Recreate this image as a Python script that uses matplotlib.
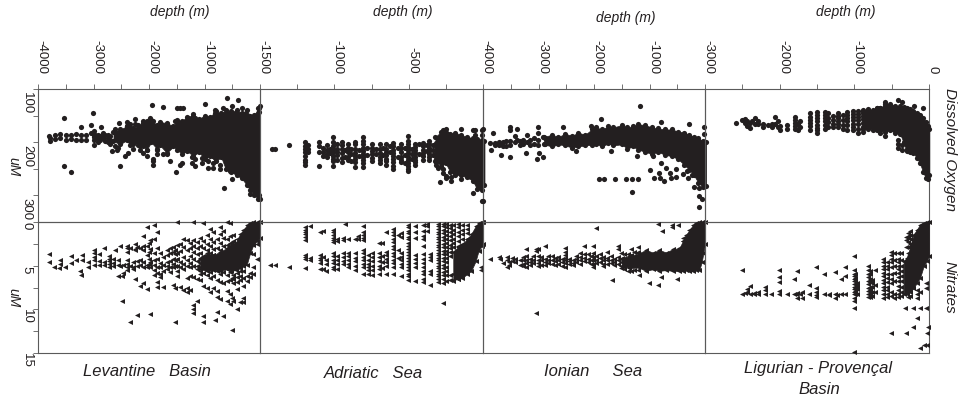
import matplotlib
matplotlib.use('Agg')
import matplotlib.pyplot as plt

plt.rcParams['font.family'] = ['Liberation Sans', 'DejaVu Sans']

INK = '#231f20'
LINE = '#5a5a5a'

# every series: depth columns + values read at that depth, core = solid black envelope

# Levantine Basin
lev_o2_depth = [-3798, -3780, -3702, -3690, -3612, -3600, -3540, -3498, -3408, -3312, -3228, -3222, -3132, -3048, -3018,
                -3000, -2970, -2910, -2880, -2862, -2820, -2790, -2730, -2700, -2670, -2610, -2580, -2550, -2538, -2520,
                -2430, -2400, -2370, -2280, -2250, -2160, -2100, -2040, -1980, -1950, -1920, -1860, -1752, -1740, -1680,
                -1620, -1530, -1506, -1500, -1440, -1410, -1392, -1300, -1230, -1200, -1170, -1050, -996, -930, -840,
                -810, -720, -660, -654, -600, -540, -510, -498, -390, -330, -180, -12]
lev_o2_um = [[189], [192, 198], [186], [194], [184], [192], [154, 245], [186, 196], [186, 194, 256], [184, 195], [172],
             [186, 196], [187, 195], [167, 182], [145], [179, 186, 190, 196, 205], [186, 192], [186, 193, 200], [188, 195], [172], [182, 192],
             [186, 198], [186, 193, 200], [188, 195, 204], [217], [175, 207], [214], [211], [164], [244], [226], [162, 170], [220],
             [204, 212], [156, 165], [207, 214], [160, 220], [165, 226, 214], [154], [131], [160, 232, 242, 236], [223, 214], [134],
             [223], [223, 165], [236], [160], [256], [136], [136, 243], [239], [136], [155], [239, 228], [147], [245, 155, 232],
             [239, 230], [129], [248, 236], [248, 226, 240], [139, 145], [251, 242], [136, 150], [286], [117, 240], [254], [132], [270],
             [120], [136], [298], [136, 143, 300, 305]]
lev_o2_core_depth = [-2640, -2520, -2400, -2340, -2280, -2200, -2100, -2040, -1960, -1860, -1800, -1680, -1560, -1500,
                     -1400, -1320, -1200, -1100, -1000, -900, -800, -700, -620, -520, -420, -330, -240, -180, -100, -30, 0]
lev_o2_core_lo = [180, 176, 170, 166, 174, 168, 164, 160, 158, 168, 162, 164, 170, 158, 160, 152, 150, 156, 150, 152, 142,
                  146, 140, 142, 140, 145, 140, 150, 148, 136, 132]
lev_o2_core_hi = [198, 204, 196, 206, 200, 205, 208, 214, 200, 212, 206, 220, 208, 214, 222, 216, 226, 218, 232, 226, 236,
                  228, 250, 256, 262, 268, 280, 290, 300, 306, 306]

lev_no3_depth = [-3810, -3720, -3630, -3612, -3510, -3408, -3312, -3240, -3222, -3210, -3108, -3000, -2898, -2808, -2712,
                 -2640, -2610, -2560, -2520, -2490, -2460, -2400, -2340, -2290, -2260, -2220, -2160, -2100, -2040, -2000,
                 -1980, -1908, -1860, -1800, -1740, -1680, -1620, -1560, -1530, -1500, -1440, -1380, -1320, -1260, -1200,
                 -1140, -1080, -1020, -960, -900, -840, -810, -780, -720, -660, -600, -540, -510, -480, -420, -360, -300,
                 -240, -180, -120, -60]
lev_no3_um = [[3.7, 4.6], [5.1], [5.3], [4.4, 4.8], [5.1], [3.9, 4.7], [4.3], [5.6], [6.1], [3.8, 4.4], [4.6, 5.1],
              [3.2, 3.6, 4.0, 4.4, 4.9], [3.7, 4.5, 4.9], [3.0, 4.6, 4.9], [3.9, 4.2, 4.5, 4.8, 5.1], [4.2, 4.7, 5.0],
              [3.2], [4.3, 4.9, 6.2], [2.8, 5.0], [6.2, 9.0], [4.9, 5.8], [2.7, 3.0, 3.4, 4.3, 4.8, 5.1, 5.5],
              [3.0, 5.0, 11.4], [4.6, 5.1, 5.4], [2.5, 3.1, 3.2, 6.5], [2.9, 4.5, 5.0, 10.7], [3.0, 4.4, 4.9, 7.3],
              [1.6, 2.7, 3.2, 4.6, 5.1, 7.0], [0.6, 2.8, 3.8, 4.9, 5.2, 7.7], [2.4, 3.4, 4.2, 4.8],
              [2.1, 3.1, 4.6, 5.2, 10.5], [0.4, 2.0, 3.6, 4.4, 4.9, 5.5, 6.1], [1.1, 3.0, 4.2, 5.1, 5.8, 6.9, 7.4],
              [3.5, 4.7, 5.2, 5.9, 6.3], [4.0, 4.9, 5.6, 7.4], [3.2, 3.8, 4.6, 5.0, 5.4], [3.0, 3.6, 4.5, 5.1, 5.7],
              [2.9, 3.4, 4.2, 4.8, 5.2, 7.2], [3.2, 3.7, 4.4, 5.0, 7.6, 11.4], [0.0, 2.6, 3.5, 4.2, 5.0, 5.6, 6.2],
              [2.5, 3.3, 4.6, 5.1, 7.4], [2.0, 2.9, 4.0, 4.8, 5.4, 7.8], [2.1, 3.2, 4.4, 5.0, 6.4, 7.6, 8.0],
              [2.4, 3.0, 3.9, 4.7, 5.2, 6.2, 7.8], [0.0, 2.1, 2.8, 3.4, 4.2, 5.0, 6.3, 9.5, 10.0, 10.4],
              [2.3, 3.0, 3.7, 4.5, 5.0, 5.4, 6.5, 9.0], [1.8, 2.7, 3.5, 4.1, 4.7, 5.2, 5.6, 6.0, 6.6],
              [0.1, 2.2, 3.0, 3.9, 4.4, 4.9, 5.3, 5.8, 7.3, 10.8, 11.4], [1.5, 2.5, 3.2, 4.2, 4.6, 5.0, 5.5, 6.1, 7.5],
              [0.8, 1.9, 2.7, 3.6, 4.4, 4.8, 5.2, 5.7, 6.4, 8.0], [1.2, 2.3, 3.1, 3.8, 4.3, 4.7, 5.0, 5.4, 6.2, 7.5],
              [11.2], [2.0, 3.0, 4.1, 4.6, 5.1, 5.6, 6.6, 7.9, 8.6, 10.3],
              [0.6, 1.4, 2.4, 3.2, 3.8, 4.3, 4.8, 5.3, 6.0, 6.9, 8.8], [1.0, 1.8, 2.8, 3.5, 4.2, 4.7, 5.2, 5.7, 7.0, 10.8],
              [0.0, 2.0, 2.6, 3.2, 3.7, 4.3, 4.9, 5.4, 6.1, 6.7, 7.9, 9.0], [0.1, 1.6, 2.4, 3.0, 3.6, 4.2, 5.0, 5.7, 6.6, 8.3, 9.4],
              [12.4, 6.4, 8.7], [1.5, 2.2, 6.1, 6.5, 7.0, 9.1], [2.0, 5.8, 6.3, 6.9, 7.7, 10.0], [5.6, 6.2, 6.6, 9.2],
              [5.6, 6.4, 7.3, 8.7, 9.2], [6.2, 6.8], [5.8, 6.3], [3.7, 5.2, 5.9], [2.5, 4.2]]
lev_no3_core_depth = [-1080, -960, -840, -720, -600, -520, -440, -360, -300, -240, -180, -120, -60, 0]
lev_no3_core_lo = [4.2, 3.6, 3.8, 3.4, 3.0, 2.4, 2.4, 1.4, 0.9, 0.4, 0.1, 0.0, 0.0, 0.0]
lev_no3_core_hi = [5.4, 5.6, 5.5, 5.6, 5.4, 5.6, 5.5, 5.3, 5.0, 4.9, 3.6, 2.6, 2.2, 1.8]

# Adriatic Sea
adr_o2_depth = [-1422, -1400, -1304, -1200, -1175, -1100, -1075, -1050, -1030, -1010, -985, -950, -925, -905, -885, -860,
                -835, -805, -780, -750, -720, -695, -670, -650, -625, -605, -575, -550, -525, -505, -480, -460, -430,
                -405, -380, -360, -335, -315, -300, -290, -270, -250, -215, -150, -70, -55, -5]
adr_o2_um = [[212], [212], [206], [200, 207, 213, 219, 226, 233, 238, 243], [205, 212, 218], [200, 208, 219, 244], [210, 218, 226],
             [205, 214, 222, 228], [213, 221], [190, 200, 207, 213, 218, 226, 231, 236, 245], [203, 212, 218, 224, 233],
             [200, 206, 213, 221, 230, 238], [215, 227], [203, 211, 219, 228, 234], [212, 222, 235],
             [200, 204, 212, 220, 226, 232, 238, 246], [214, 226], [190, 198, 204, 210, 216, 222, 228, 234, 240, 246],
             [211, 224], [203, 211, 217, 223, 229, 236], [212, 222], [204, 212, 220, 228, 234, 240], [210, 225],
             [204, 212, 218, 224, 231, 236, 242], [208, 218], [202, 208, 214, 220, 226, 232, 238, 244, 250], [210, 228],
             [203, 211, 219, 228, 233, 237], [210, 225, 240], [188, 197, 203, 209, 215, 221, 227, 233, 239, 245, 250, 254],
             [212, 222, 232], [203, 209, 215, 221, 227, 233, 238, 243], [204, 222], [202, 208, 214, 220, 226, 234],
             [206, 216], [198, 204, 210, 216, 222, 228, 233], [205, 214, 224], [202, 208, 214, 220, 226, 232, 238, 243],
             [196, 208, 218, 232, 248], [275], [178, 185, 192, 250, 258], [183, 190, 263, 268], [265, 272],
             [176, 270], [178, 296], [178, 186], [178, 186, 310]]
adr_o2_core_depth = [-320, -280, -250, -220, -190, -150, -110, -70, -40, -10, 10]
adr_o2_core_lo = [190, 180, 176, 184, 182, 186, 190, 192, 194, 196, 198]
adr_o2_core_hi = [236, 244, 240, 256, 262, 262, 266, 272, 288, 290, 280]

adr_no3_depth = [-1434, -1400, -1304, -1198, -1165, -1098, -1075, -1053, -1008, -985, -945, -931, -905, -860, -838, -806,
                 -773, -750, -700, -678, -650, -605, -575, -553, -504, -459, -403, -375, -354, -305, -269, -250, -225,
                 -200, -170, -140, -110, -11]
adr_no3_um = [[4.9], [4.9], [5.1], [0.6, 0.9, 1.1, 1.4, 1.7, 2.1, 3.8, 4.0, 4.2, 5.3], [0.5, 4.1, 4.3],
              [1.1, 3.8, 4.1, 4.4, 4.7, 5.4], [1.0, 4.0, 5.4], [4.3, 4.8, 5.6],
              [0.9, 1.2, 1.5, 1.8, 2.1, 2.3, 3.5, 3.9, 4.3, 4.7, 5.1, 5.4], [2.0, 2.2, 3.9, 4.4, 4.8, 5.4],
              [1.8, 2.1, 3.5, 4.0, 4.5, 4.8], [0.2], [1.9, 3.5, 3.9, 4.4, 4.8, 5.2], [1.9, 3.6, 4.1, 4.5, 5.0, 5.5],
              [1.6, 2.0], [0.5, 1.2, 1.5, 1.8, 2.1, 3.2, 3.6, 4.0, 4.4, 4.8, 5.2, 6.0], [3.8, 4.3, 4.8, 5.2, 5.5, 5.9],
              [3.6, 4.0, 4.5, 5.0, 5.5, 6.1], [2.4, 3.6, 4.0, 4.5, 5.0, 5.4, 6.0], [2.4, 3.9, 4.6, 5.3],
              [1.2, 3.4, 3.8, 4.2, 4.6, 5.0, 6.0], [0.8, 1.1, 1.5, 1.9, 2.3, 2.7, 3.1, 3.5, 3.9, 4.3, 4.7, 5.1, 6.0],
              [1.5, 3.2, 4.1], [1.3, 1.7, 3.6, 4.0, 4.4, 4.8, 5.2, 6.2],
              [0.3, 0.6, 1.0, 1.3, 1.7, 2.0, 2.4, 2.7, 3.1, 3.4, 3.8, 4.1, 4.5, 4.8, 5.2, 5.5, 5.9, 6.2, 6.6],
              [0.5, 1.1, 1.8, 3.8, 4.2, 4.7, 5.1, 6.8], [0.3, 1.0, 1.6, 2.0, 2.8, 3.7, 4.2, 4.7, 5.2, 5.6, 6.0, 6.5, 6.9],
              [0.2, 0.5, 1.0], [3.7, 4.0, 4.3, 5.6, 6.0, 7.2],
              [0.2, 0.5, 0.8, 1.1, 1.4, 1.7, 2.0, 2.3, 2.6, 2.9, 3.2, 3.5, 3.8, 4.1, 4.4, 4.7, 5.0, 5.3, 5.6, 5.9, 6.2, 6.5, 6.9],
              [0.2, 0.5, 0.9, 1.3, 1.7, 2.1, 2.5, 2.9, 3.3, 3.7, 4.1, 4.5, 4.9, 5.3, 5.7, 6.1, 6.5, 7.0, 9.3],
              [0.2, 0.6, 1.0, 1.5, 2.0, 2.4, 2.9, 3.3, 3.7, 4.1, 4.6, 5.1, 5.6, 6.1, 6.7],
              [0.3, 0.7, 1.2, 1.6, 2.1, 2.6, 3.0, 3.4, 3.9, 6.1, 6.6], [0.3, 0.9, 1.4, 1.9, 2.4, 2.9, 6.0, 6.6],
              [0.2, 0.6, 1.1, 1.6, 2.2, 2.7, 6.0, 6.5], [0.3, 0.9, 1.4, 2.0, 2.5, 5.8, 6.3],
              [0.3, 0.8, 1.3, 1.9, 5.3], [5.1, 5.5]]
adr_no3_core_depth = [-200, -170, -140, -110, -80, -50, -30, -10, 0]
adr_no3_core_lo = [3.4, 2.9, 2.6, 2.0, 1.4, 0.5, 0.1, 0.0, 0.0]
adr_no3_core_hi = [6.7, 6.5, 6.4, 6.0, 5.6, 4.5, 3.3, 2.8, 2.5]

# Ionian Sea
ion_o2_depth = [-4002, -3882, -3864, -3822, -3780, -3720, -3672, -3640, -3580, -3510, -3432, -3390, -3340, -3280, -3222,
                -3210, -3150, -3090, -3030, -3012, -2982, -2922, -2880, -2550, -2322, -2052, -1914, -1872, -1812, -1692,
                -1620, -1422, -1320, -1314, -1224, -1212, -1176, -990, -942, -912, -822, -810, -792, -732, -702, -630,
                -612, -522, -402, -330, -312, -282, -234, -204, -114, -102, -54, -12]
ion_o2_um = [[176, 310], [202], [215], [182], [201, 205], [200, 206], [225, 203], [200, 208], [198, 207],
             [171, 177, 198, 205, 228], [189, 200], [175, 196], [198, 205], [195, 204], [220], [187, 200], [195, 205],
             [192, 203], [232], [172, 182, 195, 205], [220], [227, 190], [192, 203], [172], [217], [170], [270], [157],
             [270], [217], [270], [270], [293], [270], [226], [270], [132], [252], [226], [267], [257], [267],
             [162, 239], [273], [248], [257], [267], [251, 265], [259], [254], [267], [166], [261], [284], [321],
             [286, 301], [307], [172, 184]]
ion_o2_core_depth = [-2900, -2760, -2640, -2520, -2400, -2280, -2160, -2040, -1960, -1860, -1740, -1650, -1500, -1400,
                     -1300, -1200, -1080, -960, -840, -720, -600, -480, -380, -280, -200, -120, -40, 20]
ion_o2_core_lo = [190, 186, 190, 184, 188, 182, 186, 176, 172, 176, 170, 172, 168, 172, 170, 166, 168, 172, 174, 176,
                  176, 180, 182, 186, 190, 192, 198, 200]
ion_o2_core_hi = [204, 208, 204, 206, 210, 208, 206, 205, 203, 208, 202, 206, 204, 212, 208, 214, 218, 222, 218, 224,
                  226, 232, 242, 252, 262, 276, 284, 282]

ion_no3_depth = [-3882, -3720, -3702, -3640, -3560, -3540, -3480, -3420, -3340, -3280, -3222, -3160, -3100, -3054, -3012,
                 -2950, -2874, -2820, -2760, -2700, -2640, -2580, -2514, -2450, -2380, -2320, -2260, -2172, -2110, -2060,
                 -2022, -1962, -1900, -1840, -1764, -1700, -1674, -1640, -1572, -1520, -1460, -1380, -1332, -1280, -1212,
                 -1182, -1002, -852, -840, -792, -774, -594, -510, -492, -402]
ion_no3_um = [[4.2], [4.0], [4.2], [4.7], [4.0, 4.4, 5.1], [4.6, 4.9], [4.1, 4.5], [4.2, 4.6], [4.4, 4.9],
              [4.0, 4.4, 4.8, 5.0], [3.1, 3.9, 4.3, 4.7, 5.1], [4.2, 4.6, 4.9], [3.9, 4.3, 4.7], [3.1, 3.3, 10.4],
              [3.1, 3.9, 4.3, 4.7, 5.0], [4.0, 4.4, 4.9], [2.8, 4.2, 4.6, 4.9], [3.9, 4.3, 4.7], [3.9, 4.4, 4.8],
              [4.1, 4.5, 4.9], [4.0, 4.4, 4.8], [4.2, 4.6, 5.0], [3.0, 3.4, 3.8, 4.1, 4.4, 4.7, 5.1],
              [4.2, 4.5, 4.8], [4.4, 4.7, 4.9], [3.9, 4.2, 4.6], [3.6, 4.0, 4.4, 4.8], [2.8, 3.7, 4.1, 4.5],
              [3.7, 4.2, 4.6], [3.9, 4.4, 4.8], [2.8, 3.6, 4.0, 4.4, 4.8, 5.2], [0.7, 3.9, 4.3, 4.7], [3.7, 4.1, 4.6],
              [4.0, 4.4, 4.8, 5.0], [3.4, 4.1, 4.4, 4.8], [3.9, 4.3, 4.7], [6.6], [4.2, 4.6, 4.9],
              [2.7, 3.1, 4.0, 4.4, 4.8], [3.5, 4.2, 4.6, 5.0, 5.3], [3.7, 4.2, 4.6, 5.0, 5.4], [3.7, 5.6],
              [3.1, 3.8, 5.6], [3.4, 5.5], [2.9, 3.4, 5.5], [6.1], [7.0],
              [0.2], [7.2], [6.3], [1.0], [0.3, 0.6], [6.5], [0.4], [1.8, 2.2]]
ion_no3_core_depth = [-1500, -1362, -1200, -1062, -940, -820, -700, -580, -462, -400, -342, -280, -222, -160, -102, -60,
                      -30, 0]
ion_no3_core_lo = [4.1, 3.9, 3.6, 3.2, 3.5, 3.2, 3.5, 3.1, 3.0, 2.2, 1.5, 0.9, 0.4, 0.1, 0.0, 0.0, 0.0, 0.0]
ion_no3_core_hi = [5.0, 5.3, 5.2, 5.6, 5.4, 5.6, 5.5, 5.6, 5.6, 5.6, 5.5, 5.6, 5.6, 5.5, 5.5, 4.6, 3.6, 2.5]

# Ligurian - Provencal Basin
lig_o2_depth = [-2582, -2506, -2462, -2440, -2395, -2373, -2328, -2284, -2217, -2150, -2105, -2060, -2016, -1994, -1904,
                -1793, -1748, -1726, -1592, -1503, -1392, -1347, -1280, -1213, -1146, -1102, -1012, -946, -879, -812,
                -700, -650, -590, -420, -360, -300, -200, -80]
lig_o2_um = [[164], [159], [164, 157], [169, 160], [173, 164], [161], [154, 165], [165, 160], [165, 172], [168], [165, 172],
             [152, 165], [160, 172], [178, 170], [168, 175], [152, 158, 164, 170, 175], [165, 178], [160, 172],
             [146, 152, 158, 164, 170, 178], [143, 149, 155, 161, 167, 173, 178, 182], [143, 149, 155, 161, 167, 175],
             [146, 154, 162, 172], [150, 158, 166, 172], [145, 150, 155, 160, 165, 172], [148, 158, 168, 175],
             [143, 149, 155, 161, 168, 178], [141, 147, 153, 159, 165, 171, 178], [141, 147, 153, 159, 166, 175, 182],
             [139, 145, 151, 157, 163, 171, 180], [139, 147, 155, 165, 176], [135, 178], [135, 176, 182], [125, 132, 188],
             [120, 195, 204, 210], [125, 205, 214], [205, 212], [132], [135]]
lig_o2_core_depth = [-880, -812, -750, -700, -650, -590, -520, -450, -390, -340, -300, -250, -210, -160, -120, -80, -40,
                     -15, 5]
lig_o2_core_lo = [142, 138, 140, 136, 136, 128, 128, 132, 132, 134, 136, 138, 142, 146, 148, 154, 162, 170, 176]
lig_o2_core_hi = [176, 172, 178, 174, 178, 180, 178, 182, 184, 200, 216, 218, 220, 230, 240, 256, 268, 270, 262]

lig_no3_depth = [-2507, -2460, -2440, -2394, -2340, -2290, -2198, -2118, -2007, -1904, -1802, -1780, -1762, -1730, -1700,
                 -1610, -1512, -1405, -1340, -1258, -1230, -1180, -1124, -1004, -985, -960, -812, -790, -760, -720, -611,
                 -566, -513, -470, -420, -380, -321, -312, -280, -250, -210, -165, -120, -67, -40, -31, -22, -18]
lig_no3_um = [[5.5, 8.2], [8.1], [8.0, 7.7], [7.3, 8.2], [8.1, 8.3], [8.0, 8.2], [7.4, 7.8, 8.2], [8.2],
              [5.5, 6.3, 6.9, 7.9, 8.2], [8.2], [6.5, 8.2], [8.2], [5.6, 8.1, 8.7], [8.2], [8.0, 8.7], [7.2, 8.2],
              [5.2, 7.6, 8.0, 8.4, 8.6], [5.9, 8.2], [8.2, 8.4], [5.7, 8.3, 8.7], [8.4], [6.5, 8.2], [5.2, 6.2, 8.3],
              [3.9, 5.5, 5.9, 6.2, 6.5, 6.8, 7.1, 7.4, 7.7, 8.0, 8.3, 8.7, 9.0, 9.9, 14.9],
              [6.0, 6.4, 6.8, 7.1, 7.5, 7.9, 8.3], [7.0, 7.3, 7.7, 8.2],
              [5.0, 5.5, 5.9, 6.3, 6.7, 7.1, 7.5, 7.9, 8.3, 8.6], [5.6, 6.0, 6.5, 6.9, 7.4, 7.8, 8.2, 8.6],
              [6.6, 7.0, 7.4, 8.0, 8.5], [5.5, 7.2, 8.0],
              [4.2, 4.6, 5.0, 5.4, 5.8, 6.2, 6.6, 7.0, 7.4, 7.8, 8.2, 8.7], [4.6, 5.0, 5.4, 5.9, 6.4, 6.9, 7.4, 7.8, 8.2, 8.6],
              [3.4, 3.8, 4.2, 4.6, 5.2, 6.0, 6.5, 7.0, 8.0, 8.5, 12.7], [3.5, 4.4, 5.0, 5.8, 6.8, 8.3, 8.7],
              [3.5, 4.2, 4.6, 5.0, 5.4, 5.8, 6.3, 6.8, 7.3, 7.8, 8.3, 8.6], [3.6, 4.4, 5.0, 5.6, 6.2, 6.8, 7.4, 8.0, 8.5],
              [9.9], [1.7, 2.1, 2.9, 12.7], [1.3, 1.7, 2.3, 2.9, 3.5, 8.6], [1.0, 1.5, 2.0, 2.5, 8.5], [9.9, 12.0],
              [7.8, 8.2, 8.7, 11.0], [8.0, 9.9, 14.4], [14.1], [7.0, 7.5, 9.9], [12.7], [14.1], [12.0]]
lig_no3_core_depth = [-340, -299, -250, -210, -165, -120, -70, -30, 0]
lig_no3_core_lo = [4.5, 4.1, 2.8, 1.5, 0.9, 0.3, 0.1, 0.0, 0.0]
lig_no3_core_hi = [8.3, 8.2, 8.0, 7.6, 7.0, 6.4, 5.0, 4.5, 3.9]

# panel left/right limit in depth, tick positions and labels
lev_ticks = [-4000, -3000, -2000, -1000]
adr_ticks = [-1500, -1000, -500]
ion_ticks = [-4000, -3000, -2000, -1000]
lig_ticks = [-3000, -2000, -1000, 0]
lev_minor = [-3500, -2500, -1500, -500]
adr_minor = [-1250, -750, -250]
ion_minor = [-3500, -2500, -1500, -500]
lig_minor = [-2500, -1500, -500]
o2_ticks = [100, 150, 200, 250, 300]
no3_ticks = [0, 2.5, 5, 7.5, 10, 12.5, 15]
o2_labels = [100, 200, 300]
no3_labels = [0, 5, 10, 15]


def flatten(depths, values):
    x = []
    y = []
    for d, vals in zip(depths, values):
        for v in vals:
            x.append(d)
            y.append(v)
    return x, y


def style_axes(ax, ticks, minor, yticks):
    ax.set_facecolor('none')
    for s in ax.spines.values():
        s.set_color(LINE)
        s.set_linewidth(0.8)
    ax.xaxis.tick_top()
    ax.set_xticks(ticks + minor)
    ax.set_yticks(yticks)
    ax.set_xticklabels([])
    ax.set_yticklabels([])
    ax.tick_params(length=3.5, width=0.6, color=LINE)


W, H = 960, 401
fig = plt.figure(figsize=(9.6, 4.01), dpi=100)
edges = [38, 260, 483, 705, 929]
top, mid, bottom = 89, 222, 353

panels = [
    (-4000, lev_ticks, lev_minor, lev_o2_depth, lev_o2_um, lev_o2_core_depth, lev_o2_core_lo, lev_o2_core_hi,
     lev_no3_depth, lev_no3_um, lev_no3_core_depth, lev_no3_core_lo, lev_no3_core_hi),
    (-1500, adr_ticks, adr_minor, adr_o2_depth, adr_o2_um, adr_o2_core_depth, adr_o2_core_lo, adr_o2_core_hi,
     adr_no3_depth, adr_no3_um, adr_no3_core_depth, adr_no3_core_lo, adr_no3_core_hi),
    (-4000, ion_ticks, ion_minor, ion_o2_depth, ion_o2_um, ion_o2_core_depth, ion_o2_core_lo, ion_o2_core_hi,
     ion_no3_depth, ion_no3_um, ion_no3_core_depth, ion_no3_core_lo, ion_no3_core_hi),
    (-3000, lig_ticks, lig_minor, lig_o2_depth, lig_o2_um, lig_o2_core_depth, lig_o2_core_lo, lig_o2_core_hi,
     lig_no3_depth, lig_no3_um, lig_no3_core_depth, lig_no3_core_lo, lig_no3_core_hi),
]

for i, p in enumerate(panels):
    left, ticks, minor, o_d, o_v, oc_d, oc_lo, oc_hi, n_d, n_v, nc_d, nc_lo, nc_hi = p
    x0 = edges[i] / W
    w = (edges[i + 1] - edges[i]) / W

    ax1 = fig.add_axes([x0, (H - mid) / H, w, (mid - top) / H])
    ax1.set_xlim(left, 0)
    ax1.set_ylim(350, 100)
    style_axes(ax1, ticks, minor, o2_ticks if i == 0 else [])
    x, y = flatten(o_d, o_v)
    ax1.scatter(x, y, s=14, c=INK, linewidths=0, clip_on=False, zorder=3)
    ax1.fill_between(oc_d, oc_lo, oc_hi, color=INK, linewidth=0.5, clip_on=False, zorder=3)
    ax1.scatter(oc_d + oc_d, oc_lo + oc_hi, s=14, c=INK, linewidths=0, clip_on=False, zorder=3)

    ax2 = fig.add_axes([x0, (H - bottom) / H, w, (bottom - mid) / H])
    ax2.set_xlim(left, 0)
    ax2.set_ylim(15, 0)
    style_axes(ax2, [], [], no3_ticks if i == 0 else [])
    x, y = flatten(n_d, n_v)
    ax2.scatter(x, y, s=13, c=INK, marker='<', linewidths=0, clip_on=False, zorder=3)
    ax2.fill_between(nc_d, nc_lo, nc_hi, color=INK, linewidth=0.5, clip_on=False, zorder=3)
    ax2.scatter(nc_d + nc_d, nc_lo + nc_hi, s=13, c=INK, marker='<', linewidths=0, clip_on=False, zorder=3)

    for t in ticks:
        ax1.annotate(str(t), (t, 1), xycoords=ax1.get_xaxis_transform(), xytext=(2.5, 11), textcoords='offset points',
                     rotation=-90, ha='center', va='bottom', fontsize=9.5, color=INK)

    if i == 0:
        for v in o2_labels:
            ax1.annotate(str(v), (0, v), xycoords=ax1.get_yaxis_transform(), xytext=(-8, -2), textcoords='offset points',
                         rotation=-90, ha='center', va='top', fontsize=9.5, color=INK)
        for v in no3_labels:
            ax2.annotate(str(v), (0, v), xycoords=ax2.get_yaxis_transform(), xytext=(-8, 0), textcoords='offset points',
                         rotation=-90, ha='center', va='top', fontsize=9.5, color=INK)


def put_text(px, py, s, size, rotation=0):
    fig.text(px / W, 1 - py / H, s, fontsize=size, style='italic', rotation=rotation, ha='center', va='center', color=INK)


for px, py in [(180, 12), (403, 12), (626, 18), (846, 12)]:
    put_text(px, py, 'depth (m)', 10)
put_text(13, 167, 'uM', 10, rotation=-90)
put_text(13, 298, 'uM', 10, rotation=-90)
put_text(950, 150, 'Dissolved Oxygen', 11, rotation=-90)
put_text(950, 287, 'Nitrates', 11, rotation=-90)
put_text(147, 372, 'Levantine   Basin', 12)
put_text(373, 373, 'Adriatic   Sea', 12)
put_text(593, 371, 'Ionian     Sea', 12)
put_text(818, 369, 'Ligurian - Provençal', 12)
put_text(819, 390, 'Basin', 12)

fig.savefig('out.png', dpi=100)
